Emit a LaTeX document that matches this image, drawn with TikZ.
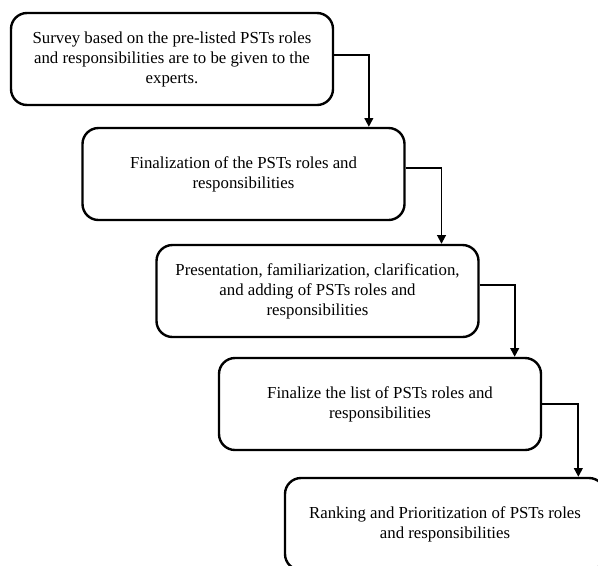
\documentclass[tikz,border=0pt]{standalone}
\usepackage{fontspec}
\setmainfont{Liberation Serif}
\usetikzlibrary{arrows.meta,positioning}

\begin{document}
\begin{tikzpicture}[x=0.75pt,y=-0.75pt,
  stepbox/.style={draw, line width=1.8pt, rounded corners=12pt, minimum width=241.5pt, minimum height=69pt, align=center, font=\fontsize{12.6}{15}\selectfont},
  flow/.style={-{Triangle[length=6.5pt,width=6.5pt]}, line width=1.3pt}]
  \useasboundingbox (0,0) rectangle (598,565);
  % Five steps, going down to the right
  \node[stepbox] (s1) at (172,59) {Survey based on the pre-listed PSTs roles\\and responsibilities are to be given to the\\experts.};
  \node[stepbox] (s2) at (243.5,174) {Finalization of the PSTs roles and\\responsibilities};
  \node[stepbox] (s3) at (317.5,291) {Presentation, familiarization, clarification,\\and adding of PSTs roles and\\responsibilities};
  \node[stepbox] (s4) at (380,404) {Finalize the list of PSTs roles and\\responsibilities};
  \node[stepbox, minimum width=240pt] (s5) at (445,524) {Ranking and Prioritization of PSTs roles\\and responsibilities};
  % Elbow arrows between steps
  \draw[flow] ([yshift=3pt]s1.east) -| ([xshift=94pt]s2.north);
  \draw[flow] ([yshift=4.5pt]s2.east) -| ([xshift=93pt]s3.north);
  \draw[flow] ([yshift=4.5pt]s3.east) -| ([xshift=101pt]s4.north);
  \draw[flow] (s4.east) -| ([xshift=100pt]s5.north);
\end{tikzpicture}
\end{document}
